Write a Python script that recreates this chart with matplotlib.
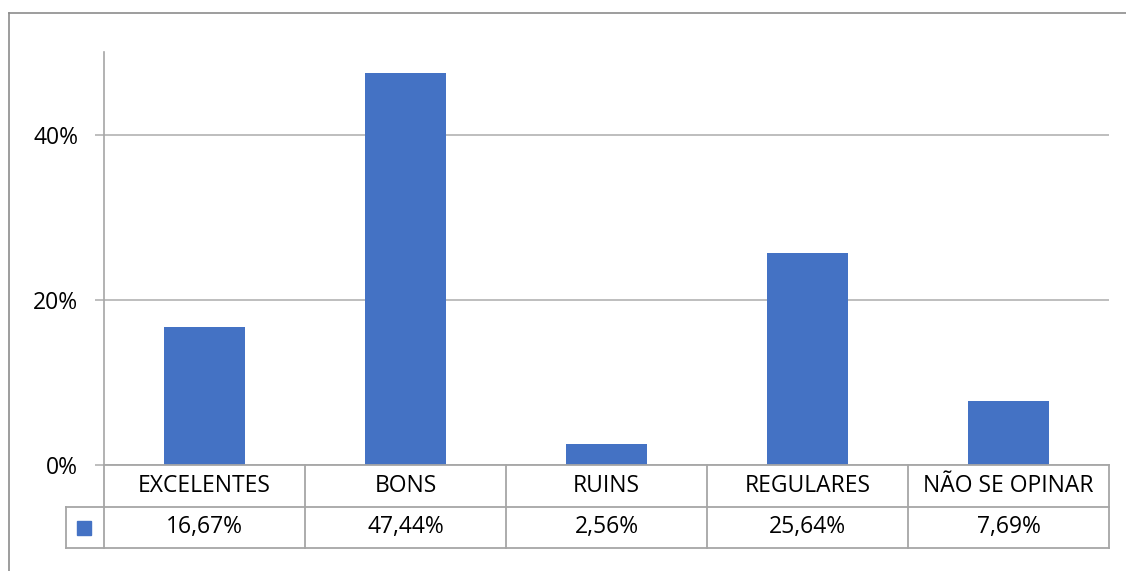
import matplotlib
matplotlib.use("Agg")
import matplotlib.pyplot as plt
from matplotlib.lines import Line2D
from matplotlib.patches import Rectangle
from matplotlib.ticker import FuncFormatter

categories = ["EXCELENTES", "BONS", "RUINS", "REGULARES", "NÃO SE OPINAR"]
values = [16.67, 47.44, 2.56, 25.64, 7.69]
value_labels = ["16,67%", "47,44%", "2,56%", "25,64%", "7,69%"]
yticks = [0, 20, 40]

W, H = 1126, 571
fig = plt.figure(figsize=(W / 100, H / 100), dpi=100)
plt.rcParams['font.family'] = ['Open Sans', 'DejaVu Sans']

bar_color = "#4472C4"
grid_color = "#B3B3B3"
table_color = "#A6A6A6"
fs = 16.5

# plot area in pixels
L, R, T, B = 104, 1109, 52, 465
ax = fig.add_axes([L / W, 1 - B / H, (R - L) / W, (B - T) / H])
n = len(categories)
x = list(range(n))
ax.bar(x, values, width=0.4, color=bar_color, zorder=3)
ax.set_xlim(-0.5, n - 0.5)
ax.set_ylim(0, 50)
ax.set_yticks(yticks)
ax.yaxis.set_major_formatter(FuncFormatter(lambda v, p: f"{int(v)}%"))
ax.set_xticks([])
for s in ["top", "right", "bottom"]:
    ax.spines[s].set_visible(False)
ax.spines["left"].set_color(table_color)
ax.spines["left"].set_linewidth(1.2)
ax.tick_params(axis="y", length=6.5, width=1.2, color=grid_color, labelsize=fs,
               pad=12, labelcolor="#000000")
ax.yaxis.grid(True, color=grid_color, linewidth=1.2, zorder=0)
ax.set_axisbelow(True)

# data table
def fx(px):
    return px / W
def fy(py):
    return 1 - py / H

row1_top, row1_bot, row2_bot = 465, 507, 548
cat_w = (R - L) / n
key_left = 66
lw = 1.3
lines = []
lines.append(((L, R), (row1_top, row1_top)))
lines.append(((key_left, R), (row1_bot, row1_bot)))
lines.append(((key_left, R), (row2_bot, row2_bot)))
lines.append(((L, L), (row1_top, row2_bot)))
for i in range(1, n + 1):
    xp = L + i * cat_w
    lines.append(((xp, xp), (row1_top, row2_bot)))
lines.append(((key_left, key_left), (row1_bot, row2_bot)))
for (xs, ys) in lines:
    fig.add_artist(Line2D([fx(xs[0]), fx(xs[1])], [fy(ys[0]), fy(ys[1])],
                          color=table_color, linewidth=lw))

for i, (c, v) in enumerate(zip(categories, value_labels)):
    cx = L + (i + 0.5) * cat_w
    fig.text(fx(cx), fy((row1_top + row1_bot) / 2), c, ha="center", va="center",
             fontsize=fs, color="#000000")
    fig.text(fx(cx), fy((row1_bot + row2_bot) / 2), v, ha="center", va="center",
             fontsize=fs, color="#000000")

# legend key
kx, ky, ks = 77, 521, 14
fig.add_artist(Rectangle((fx(kx), fy(ky + ks)), ks / W, ks / H, color=bar_color,
                         transform=fig.transFigure))

# outer frame
fig.add_artist(Line2D([fx(8.5), fx(W)], [fy(12.5), fy(12.5)], color="#8C8C8C", linewidth=1.2))
fig.add_artist(Line2D([fx(8.5), fx(8.5)], [fy(12.5), fy(H)], color="#8C8C8C", linewidth=1.2))

fig.savefig("out.png", dpi=100)
